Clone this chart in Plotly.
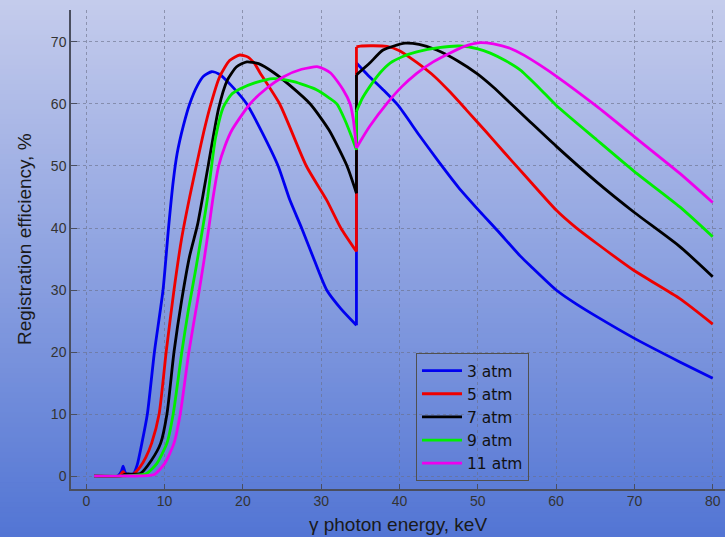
import plotly.graph_objects as go

# ---------------- data ----------------
series_names = ["3 atm", "5 atm", "7 atm", "9 atm", "11 atm"]
series_colors = ["#0000f0", "#ee0000", "#000000", "#00ee00", "#ee00ee"]
edge_kev = 34.5  # Xe K-edge: curves jump here

x_3atm = [1, 4.0, 4.5, 4.7, 4.9, 5.2, 6.0, 6.5, 7.1, 7.8, 8.7, 9.8, 10.5, 11.1, 11.6, 12.4, 13.2,
          14.2, 15.0, 16.0, 17.0, 18.5, 20.5, 22.5, 24.5, 26.0, 27.5, 29.0, 30.7, 32.5, 34.5,
          34.5, 36.0, 37.9, 39.8, 42.5, 45.0, 47.5, 50.3, 52.5, 55.4, 56.7, 60, 62.5, 65.2, 70, 75.8, 80]
y_3atm = [0, 0, 0.8, 1.6, 0.8, 0.1, 0.3, 1.8, 5.3, 10, 20, 30, 40, 47.5, 52, 56.5, 60,
          63, 64.5, 65.2, 64.8, 63, 60, 55.3, 50, 44.5, 40, 35.2, 30, 27, 24.3,
          66.6, 64.6, 62.3, 59.8, 55.0, 50.7, 46.6, 42.6, 39.6, 35.5, 33.9, 30, 27.8, 25.7, 22.2, 18.4, 15.75]

x_5atm = [1, 4.2, 4.7, 5.1, 6.0, 6.9, 7.6, 8.35, 9.3, 10.2, 11.2, 12.2, 13.2, 14.3, 15.0, 15.8, 17.0,
          18.3, 19.6, 20.6, 21.5, 22.2, 24.7, 28.1, 30.7, 32.5, 34.5,
          34.5, 35.0, 38.4, 40.0, 42.2, 44.5, 46.4, 48.5, 51.0, 53.3, 55.0, 56.7, 60, 62.5, 65.2, 70,
          75.8, 80]
y_5atm = [0, 0, 0.7, 0.1, 0.3, 1.5, 3.0, 5.3, 10, 20, 30, 38.5, 45, 51.5, 55.5, 59.5, 64.3,
          67, 67.9, 67.6, 66.5, 65.0, 60, 50, 44.5, 40, 36.2,
          69.2, 69.35, 69.3, 68.6, 66.7, 64.4, 62.0, 59.1, 55.6, 52.3, 49.9, 47.5, 42.9, 40.1, 37.5, 33.1,
          28.6, 24.5]

x_7atm = [1, 4.5, 5.0, 6.9, 8.3, 9.5, 10.3, 11.2, 12.2, 13.2, 14.2, 15.0, 15.6, 16.9, 18.0, 19.2,
          20.5, 22.0, 24.0, 26.0, 28.6, 31.0, 33.3, 34.5,
          34.5, 36.2, 37.9, 40.7, 42.5, 44.75, 47.5, 49.9, 52.0, 54.1, 56.7, 60, 65.2, 70, 75.8, 80]
y_7atm = [0, 0, 0.3, 0.4, 2.5, 5.3, 10, 20, 28.5, 35.5, 40.5, 46, 50.3, 59.3, 63.8, 66,
          66.8, 66.5, 65.0, 63.0, 60, 55.8, 50, 45.6,
          64.7, 66.6, 68.7, 69.8, 69.6, 68.7, 66.9, 64.9, 62.7, 60.2, 57.1, 53.2, 47.4, 42.5, 37.0, 32.15]

x_9atm = [1, 5.0, 7.7, 9.0, 10.3, 11.1, 12.2, 13.0, 14.0, 15.0, 15.5, 15.9, 16.5, 17.5, 18.5, 19.6,
          21.5, 23.9, 26.5, 29.4, 31.0, 32.0, 33.0, 33.8, 34.5,
          34.5, 35.2, 36.2, 37.5, 38.8, 40.5, 42.2, 45.0, 47.7, 50.0, 51.6, 53.5, 55.4, 57.9, 60,
          65.2, 70, 75.8, 80]
y_9atm = [0, 0, 0.4, 2.0, 5.3, 10, 20, 26.5, 33.5, 41, 45, 49, 54.5, 59.5, 61.5, 62.4,
          63.4, 64.1, 63.6, 62.3, 61.0, 60, 57.5, 55.0, 52.6,
          58.8, 60.8, 62.8, 65.0, 66.6, 67.7, 68.4, 69.1, 69.35, 68.9, 68.2, 67.0, 65.5, 62.5, 59.8,
          54.2, 49.1, 43.4, 38.6]

x_11atm = [1, 5.0, 8.6, 10.0, 11.2, 12.0, 13.1, 14.3, 15.0, 15.7, 16.2, 16.9, 17.7, 18.6, 20.9, 23.0,
           25.2, 27.5, 29.6, 31.2, 32.8, 33.7, 34.1, 34.5,
           35.2, 36.2, 38.4, 40.3, 42.2, 44.3, 46.4, 48.3, 50.3, 52.0, 54.1, 56.0, 57.9, 60,
           65.2, 70, 75.8, 80]
y_11atm = [0, 0, 0.2, 2.0, 5.3, 10, 20, 29, 34.5, 40.5, 45, 50, 53.2, 55.8, 60, 62.5,
           64.4, 65.6, 66.0, 65.0, 62.3, 60.0, 57.5, 52.9,
           54.4, 56.4, 60.1, 62.8, 64.95, 66.8, 68.2, 69.3, 69.9, 69.7, 69.0, 67.8, 66.3, 64.5,
           59.6, 54.7, 48.8, 44.1]

x_ticks = [0, 10, 20, 30, 40, 50, 60, 70, 80]
y_ticks = [0, 10, 20, 30, 40, 50, 60, 70]

series_x = [x_3atm, x_5atm, x_7atm, x_9atm, x_11atm]
series_y = [y_3atm, y_5atm, y_7atm, y_9atm, y_11atm]

# ---------------- figure ----------------
W, H = 725, 537
ML, MR, MT, MB = 71, 0, 10, 48
PW, PH = W - ML - MR, H - MT - MB

fig = go.Figure()
for name, col, xs, ys in zip(series_names, series_colors, series_x, series_y):
    idx = [i for i, v in enumerate(xs) if v == edge_kev]
    a_end, c_start = idx[0], idx[-1]
    line_s = dict(color=col, width=2.8, shape="spline", smoothing=0.6)
    # below the edge
    fig.add_trace(go.Scatter(x=xs[:a_end + 1], y=ys[:a_end + 1], mode="lines", name=name,
                             legendgroup=name, line=line_s))
    # the jump at the edge
    if c_start != a_end:
        fig.add_trace(go.Scatter(x=xs[a_end:c_start + 1], y=ys[a_end:c_start + 1], mode="lines",
                                 name=name, legendgroup=name, showlegend=False,
                                 line=dict(color=col, width=2.8)))
    # above the edge
    fig.add_trace(go.Scatter(x=xs[c_start:], y=ys[c_start:], mode="lines", name=name,
                             legendgroup=name, showlegend=False, line=line_s))

# vertical background gradient (light lavender at top -> blue at bottom)
top_rgb = (197, 204, 236)
bot_rgb = (82, 117, 212)
n_bands = 108
shapes = []
for i in range(n_bands):
    t = (i + 0.5) / n_bands
    r = round(top_rgb[0] + (bot_rgb[0] - top_rgb[0]) * t)
    g = round(top_rgb[1] + (bot_rgb[1] - top_rgb[1]) * t)
    b = round(top_rgb[2] + (bot_rgb[2] - top_rgb[2]) * t)
    py0 = H * i / n_bands
    py1 = H * (i + 1) / n_bands + 0.8
    shapes.append(dict(type="rect", xref="paper", yref="paper", layer="below",
                       x0=-ML / PW, x1=(W - ML) / PW + 0.01,
                       y0=(H - MB - py1) / PH, y1=(H - MB - py0) / PH,
                       line=dict(width=0), fillcolor=f"rgb({r},{g},{b})"))

tick_font = dict(family="Liberation Sans, Arial, sans-serif", size=14, color="#333333")
title_font = dict(family="Liberation Sans, Arial, sans-serif", size=19, color="#1a1a1a")
grid_col = "rgba(105,110,135,0.6)"

fig.update_layout(
    width=W, height=H,
    margin=dict(l=ML, r=MR, t=MT, b=MB),
    paper_bgcolor="rgb(140,158,222)",
    plot_bgcolor="rgba(0,0,0,0)",
    shapes=shapes,
    showlegend=True,
    legend=dict(x=(416 - ML) / PW, y=(H - MB - 353) / PH, xanchor="left", yanchor="top",
                bgcolor="rgba(0,0,0,0)", bordercolor="#505050", borderwidth=1,
                itemwidth=40, tracegroupgap=0,
                font=dict(family="DejaVu Sans, sans-serif", size=15.5, color="#111111")),
    xaxis=dict(range=[-1.954, 81.57], tickvals=x_ticks, ticktext=[str(v) for v in x_ticks],
               showgrid=True, gridcolor=grid_col, griddash="dot", gridwidth=1,
               zeroline=False, showline=True, linecolor="#4a4e5e", linewidth=1.5,
               ticks="inside", ticklen=5, tickcolor="#4a4e5e", tickfont=tick_font,
               ticklabelstandoff=-2,
               title=dict(text="γ photon energy, keV", font=title_font, standoff=10)),
    yaxis=dict(range=[-2.097, 75.16], tickvals=y_ticks, ticktext=[str(v) for v in y_ticks],
               showgrid=True, gridcolor=grid_col, griddash="dot", gridwidth=1,
               zeroline=False, showline=True, linecolor="#4a4e5e", linewidth=1.5,
               ticks="inside", ticklen=6, tickcolor="#4a4e5e", tickfont=tick_font),
    annotations=[dict(text="Registration efficiency, %", textangle=-90, showarrow=False,
                      xref="paper", yref="paper", x=(25 - ML) / PW, y=(H - MB - 239) / PH,
                      xanchor="center", yanchor="middle",
                      font=dict(title_font, size=19))],
)

fig.write_html("out.html")
